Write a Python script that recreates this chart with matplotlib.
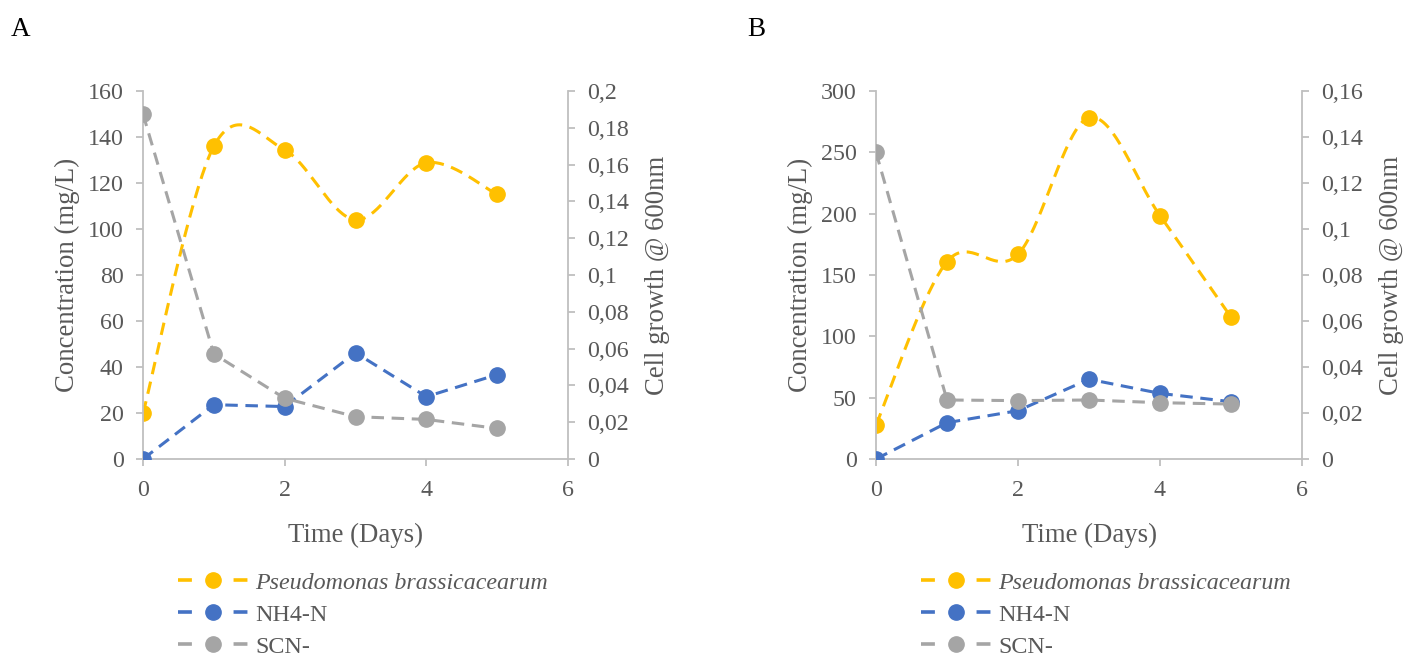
import numpy as np
import matplotlib
matplotlib.use("Agg")
import matplotlib.pyplot as plt
from matplotlib.lines import Line2D

# ---- data ----
days = [0, 1, 2, 3, 4, 5]

# Panel A
a_growth = [0.0248, 0.170, 0.168, 0.130, 0.161, 0.1438]   # OD600 (right axis)
a_nh4 = [0.0, 23.6, 22.8, 46.2, 27.1, 36.7]                # mg/L (left axis)
a_scn = [150.0, 45.7, 26.4, 18.4, 17.2, 13.3]              # mg/L (left axis)

# Panel B
b_growth = [0.0148, 0.0858, 0.089, 0.1484, 0.1058, 0.0617]
b_nh4 = [0.0, 29.6, 39.4, 65.0, 53.5, 46.7]
b_scn = [250.0, 48.1, 47.6, 48.1, 45.9, 44.8]

a_left_ticks = [0, 20, 40, 60, 80, 100, 120, 140, 160]
a_right_ticks = [0, 0.02, 0.04, 0.06, 0.08, 0.1, 0.12, 0.14, 0.16, 0.18, 0.2]
b_left_ticks = [0, 50, 100, 150, 200, 250, 300]
b_right_ticks = [0, 0.02, 0.04, 0.06, 0.08, 0.1, 0.12, 0.14, 0.16]
x_ticks = [0, 2, 4, 6]

labels = ["Pseudomonas brassicacearum", "NH4-N", "SCN-"]

# ---- style ----
YELLOW = "#FFC000"
BLUE = "#4472C4"
GREY = "#A5A5A5"
TEXT = "#595959"
SPINE = "#BFBFBF"

plt.rcParams["font.family"] = ["Liberation Serif", "DejaVu Serif"]
plt.rcParams["lines.scale_dashes"] = False

TICK_FS = 17.3
LABEL_FS = 19.3
LW = 2.2
MS = 11
DASH = (9.0, 5.5)


def smooth(x, y, xmax, ymax, n=40):
    """Bezier smoothing through the points (spreadsheet-style smoothed line)."""
    px = np.asarray(x, float) / xmax
    py = np.asarray(y, float) / ymax
    P = np.column_stack([px, py])
    P = np.vstack([P[0], P, P[-1]])
    out = []
    for i in range(1, len(P) - 2):
        p0, p1, p2, p3 = P[i - 1], P[i], P[i + 1], P[i + 2]
        c1 = p1 + (p2 - p0) / 6.0
        c2 = p2 - (p3 - p1) / 6.0
        t = np.linspace(0, 1, n)[:, None]
        seg = ((1 - t) ** 3) * p1 + 3 * ((1 - t) ** 2) * t * c1 + 3 * (1 - t) * t ** 2 * c2 + t ** 3 * p2
        if i > 1:
            seg = seg[1:]
        out.append(seg)
    out = np.vstack(out)
    return out[:, 0] * xmax, out[:, 1] * ymax


def style_axis(ax):
    ax.spines["top"].set_visible(False)
    for s in ["left", "right", "bottom"]:
        ax.spines[s].set_color(SPINE)
        ax.spines[s].set_linewidth(1.3)
    ax.tick_params(colors=SPINE, labelcolor=TEXT, labelsize=TICK_FS, width=1.3, length=5)


def fmt_int(v):
    return f"{int(round(v))}"


def fmt_comma(v):
    if v == 0:
        return "0"
    s = f"{v:.2f}".rstrip("0").rstrip(".")
    return s.replace(".", ",")


def panel(rect, letter, letter_x, growth, nh4, scn, lticks, rticks, legend_xy):
    ax = fig.add_axes(rect)
    ax2 = ax.twinx()
    ymax_l = lticks[-1]
    ymax_r = rticks[-1]
    style_axis(ax)
    style_axis(ax2)
    ax2.spines["left"].set_visible(False)
    ax2.spines["bottom"].set_visible(False)
    ax.spines["right"].set_visible(False)

    ax.set_xticks(x_ticks)
    ax.set_yticks(lticks)
    ax.set_yticklabels([fmt_int(v) for v in lticks])
    ax2.set_yticks(rticks)
    ax2.set_yticklabels([fmt_comma(v) for v in rticks])
    ax.tick_params(axis="y", pad=9)
    ax2.tick_params(axis="y", pad=9)
    ax.tick_params(axis="x", pad=10)

    ax.set_xlabel("Time (Days)", fontsize=LABEL_FS, color=TEXT, labelpad=16)
    ax.set_ylabel("Concentration (mg/L)", fontsize=LABEL_FS, color=TEXT, labelpad=5.5)
    ax2.set_ylabel("Cell growth @ 600nm", fontsize=LABEL_FS, color=TEXT, labelpad=11)

    # growth curve on the right axis (smoothed line)
    sx, sy = smooth(days, growth, 6, ymax_r)
    ax2.plot(sx, sy, color=YELLOW, lw=LW, dashes=DASH, zorder=2)
    ax2.plot(days, growth, ls="none", marker="o", ms=MS, color=YELLOW, zorder=2.5)

    # concentrations on the left axis (straight segments)
    ax.set_zorder(ax2.get_zorder() + 1)
    ax.patch.set_visible(False)
    ax.plot(days, nh4, color=BLUE, lw=LW, dashes=DASH, marker="o", ms=MS, zorder=3)
    ax.plot(days, scn, color=GREY, lw=LW, dashes=DASH, marker="o", ms=MS, zorder=4)

    ax.set_xlim(0, 6)
    ax2.set_xlim(0, 6)
    ax.set_ylim(0, ymax_l)
    ax2.set_ylim(0, ymax_r)

    fig.text(letter_x, 1 - 30 / 658, letter, fontsize=19.5, color="black",
             va="center", ha="left")

    handles = [Line2D([], [], color=c, lw=LW + 0.4, dashes=(10, 30), marker="o", ms=MS,
                      dash_capstyle="butt") for c in (YELLOW, BLUE, GREY)]
    leg = fig.legend(handles, labels, loc="upper left", bbox_to_anchor=legend_xy,
                     frameon=False, fontsize=TICK_FS, handlelength=2.9, handletextpad=0.3,
                     labelspacing=0.42, numpoints=1, borderaxespad=0, borderpad=0)
    for i, t in enumerate(leg.get_texts()):
        t.set_color(TEXT)
        if i == 0:
            t.set_style("italic")
    return ax, ax2


fig = plt.figure(figsize=(14.04, 6.58), dpi=100)

panel([143 / 1404, 1 - 459 / 658, 425 / 1404, 368 / 658], "A", 11 / 1404,
      a_growth, a_nh4, a_scn, a_left_ticks, a_right_ticks,
      (178 / 1404, 1 - 572 / 658))
panel([876 / 1404, 1 - 459 / 658, 426 / 1404, 368 / 658], "B", 747 / 1404,
      b_growth, b_nh4, b_scn, b_left_ticks, b_right_ticks,
      (921 / 1404, 1 - 572 / 658))

fig.savefig("out.png", dpi=100)
